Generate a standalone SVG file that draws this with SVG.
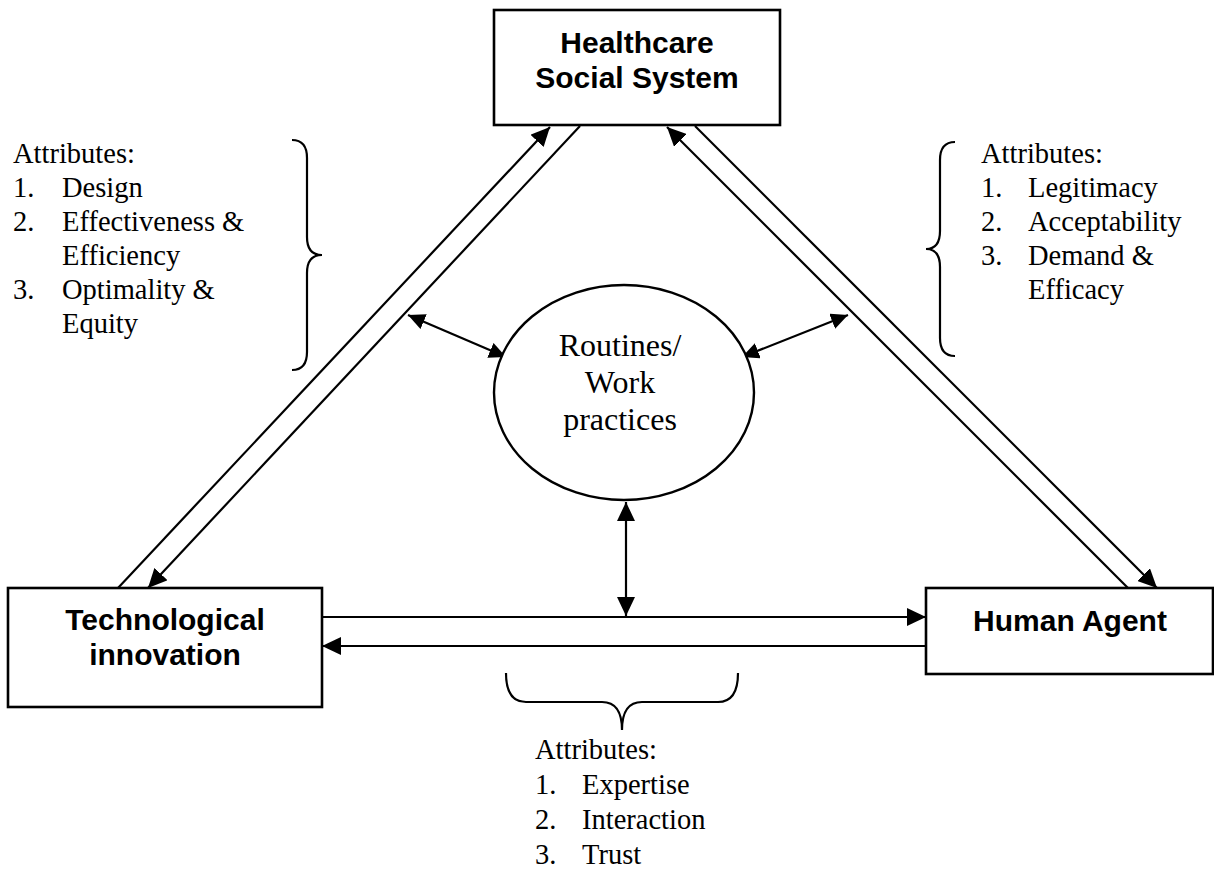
<svg xmlns="http://www.w3.org/2000/svg" width="1214" height="877" viewBox="0 0 1214 877">
<style>
.box{fill:#fff;stroke:#000;stroke-width:2.6}
.lbl{font-family:"Liberation Sans",Arial,sans-serif;font-weight:bold;font-size:30px;fill:#000;text-anchor:middle}
.att{font-family:"Liberation Serif","Times New Roman",serif;font-size:28.5px;fill:#000}
.rt{font-family:"Liberation Serif","Times New Roman",serif;font-size:32px;fill:#000;text-anchor:middle}
.ln{fill:none;stroke:#000;stroke-width:2.2}
.br{fill:none;stroke:#000;stroke-width:2.2}
</style>
<defs>
<marker id="ah" markerUnits="userSpaceOnUse" markerWidth="19" markerHeight="18" refX="19" refY="9" orient="auto-start-reverse" viewBox="0 0 19 18">
<path d="M0,0 L19,9 L0,18 z" fill="#000"/>
</marker>
<marker id="sh" markerUnits="userSpaceOnUse" markerWidth="17" markerHeight="16" refX="17" refY="8" orient="auto-start-reverse" viewBox="0 0 17 16">
<path d="M0,0 L17,8 L0,16 z" fill="#000"/>
</marker>
</defs>
<rect width="1214" height="877" fill="#fff"/>

<g id="connectors">
<line class="ln" x1="118" y1="588" x2="550" y2="127" marker-end="url(#ah)"/>
<line class="ln" x1="580" y1="126" x2="148" y2="588" marker-end="url(#ah)"/>
<line class="ln" x1="1128" y1="588" x2="667" y2="127" marker-end="url(#ah)"/>
<line class="ln" x1="695" y1="126" x2="1157" y2="588" marker-end="url(#ah)"/>
<line class="ln" x1="322" y1="617" x2="926" y2="617" marker-end="url(#ah)"/>
<line class="ln" x1="926" y1="646" x2="322" y2="646" marker-end="url(#ah)"/>
<line class="ln" x1="626" y1="502" x2="626" y2="616" marker-start="url(#ah)" marker-end="url(#ah)"/>
<line class="ln" x1="408" y1="315" x2="506" y2="357" marker-start="url(#sh)" marker-end="url(#sh)"/>
<line class="ln" x1="742" y1="357" x2="848" y2="315" marker-start="url(#sh)" marker-end="url(#sh)"/>
</g>

<g id="healthcare">
<rect class="box" x="494" y="10" width="286" height="115"/>
<text class="lbl" x="637" y="53">Healthcare</text>
<text class="lbl" x="637" y="88">Social System</text>
</g>

<g id="technological">
<rect class="box" x="8" y="588" width="314" height="119"/>
<text class="lbl" x="165" y="630">Technological</text>
<text class="lbl" x="165" y="665">innovation</text>
</g>

<g id="human">
<rect class="box" x="926" y="588" width="287" height="86"/>
<text class="lbl" x="1070" y="631">Human Agent</text>
</g>

<g id="routines">
<ellipse cx="624" cy="392.5" rx="130" ry="107.5" fill="#fff" stroke="#000" stroke-width="2.4"/>
<text class="rt" x="620" y="356">Routines/</text>
<text class="rt" x="620" y="393">Work</text>
<text class="rt" x="620" y="430">practices</text>
</g>

<g id="attributes-left">
<path class="br" d="M292,140 Q307,140 307,158 L307,237 Q307,255 322,255 Q307,255 307,273 L307,352 Q307,370 292,370"/>
<text class="att" x="13" y="163">Attributes:</text>
<text class="att" x="13" y="197">1.</text><text class="att" x="62" y="197">Design</text>
<text class="att" x="13" y="231">2.</text><text class="att" x="62" y="231">Effectiveness &amp;</text>
<text class="att" x="62" y="265">Efficiency</text>
<text class="att" x="13" y="299">3.</text><text class="att" x="62" y="299">Optimality &amp;</text>
<text class="att" x="62" y="333">Equity</text>
</g>

<g id="attributes-right">
<path class="br" d="M955,142 Q940,142 940,160 L940,231 Q940,249 926,249 Q940,249 940,267 L940,338 Q940,356 955,356"/>
<text class="att" x="981" y="163">Attributes:</text>
<text class="att" x="981" y="197">1.</text><text class="att" x="1028" y="197">Legitimacy</text>
<text class="att" x="981" y="231">2.</text><text class="att" x="1028" y="231">Acceptability</text>
<text class="att" x="981" y="265">3.</text><text class="att" x="1028" y="265">Demand &amp;</text>
<text class="att" x="1028" y="299">Efficacy</text>
</g>

<g id="attributes-bottom">
<path class="br" d="M506,673 Q506,702 526,702 L602,702 Q622,702 622,730 Q622,702 642,702 L718,702 Q738,702 738,673"/>
<text class="att" x="535" y="759">Attributes:</text>
<text class="att" x="535" y="794">1.</text><text class="att" x="582" y="794">Expertise</text>
<text class="att" x="535" y="829">2.</text><text class="att" x="582" y="829">Interaction</text>
<text class="att" x="535" y="864">3.</text><text class="att" x="582" y="864">Trust</text>
</g>
</svg>
